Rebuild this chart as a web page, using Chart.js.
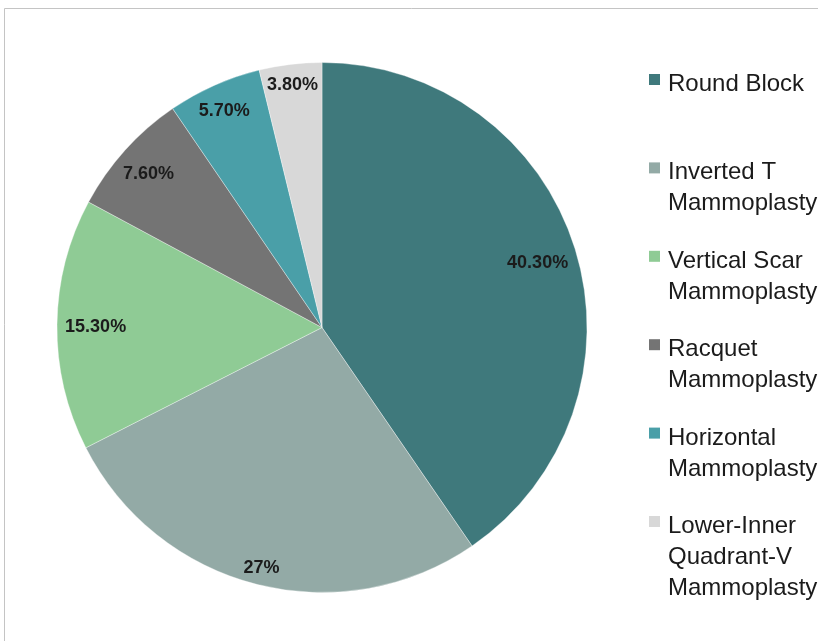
<!DOCTYPE html>
<html>
<head>
<meta charset="utf-8">
<script src="https://cdn.jsdelivr.net/npm/chart.js@4"></script>
<style>
    body { margin: 0; background: #fff; }
    canvas { display: block; }
</style>
</head>
<body>
<canvas id="pie-chart" width="818" height="641"></canvas>
<script>
// categories (each one split in the lines shown in the legend)
const categories = [
    ['Round Block'],
    ['Inverted T', 'Mammoplasty'],
    ['Vertical Scar', 'Mammoplasty'],
    ['Racquet', 'Mammoplasty'],
    ['Horizontal', 'Mammoplasty'],
    ['Lower-Inner', 'Quadrant-V', 'Mammoplasty']
];
const percents = [40.3, 27, 15.3, 7.6, 5.7, 3.8];
const slice_colors = ['#3f797c', '#93aaa6', '#8fcb95', '#747474', '#4a9fa8', '#d8d8d8'];

const text_color = '#1b1b1b';

function format_percent(v) {
    return (v % 1 === 0) ? v + '%' : v.toFixed(2) + '%';
}

// thin grey frame on top and left like the original picture
const frame_plugin = {
    id: 'frame',
    beforeDraw(chart) {
        const ctx = chart.ctx;
        ctx.save();
        ctx.fillStyle = '#fff';
        ctx.fillRect(0, 0, chart.width, chart.height);
        ctx.strokeStyle = '#c4c4c4';
        ctx.lineWidth = 1;
        ctx.beginPath();
        ctx.moveTo(4.5, chart.height);
        ctx.lineTo(4.5, 8.5);
        ctx.lineTo(chart.width, 8.5);
        ctx.stroke();
        ctx.restore();
    }
};

// percent labels, placed "inside end" of each slice
const value_labels = {
    id: 'valueLabels',
    afterDatasetsDraw(chart) {
        const ctx = chart.ctx;
        const meta = chart.getDatasetMeta(0);
        ctx.save();
        ctx.font = 'bold 18px "Liberation Sans", Arial, sans-serif';
        ctx.fillStyle = text_color;
        ctx.textAlign = 'center';
        ctx.textBaseline = 'middle';
        meta.data.forEach((arc, i) => {
            const p = arc.getProps(['x', 'y', 'startAngle', 'endAngle', 'outerRadius'], true);
            const mid = (p.startAngle + p.endAngle) / 2;
            const dx = Math.cos(mid), dy = Math.sin(mid);
            const txt = format_percent(percents[i]);
            const hw = ctx.measureText(txt).width / 2;
            const hh = 7;
            const extent = hw * Math.abs(dx) + hh * Math.abs(dy);
            const dist = p.outerRadius - 8 - extent;
            ctx.fillText(txt, p.x + dx * dist, p.y + dy * dist + 2.5);
        });
        ctx.restore();
    }
};

// legend on the right, one slot per category
const side_legend = {
    id: 'sideLegend',
    afterDraw(chart) {
        const ctx = chart.ctx;
        const colors = chart.data.datasets[0].backgroundColor;
        ctx.save();
        ctx.font = '24px "Liberation Sans", Arial, sans-serif';
        ctx.fillStyle = text_color;
        ctx.textAlign = 'left';
        ctx.textBaseline = 'alphabetic';
        chart.data.labels.forEach((lines, i) => {
            const base = 91 + i * 88.4;
            ctx.fillStyle = colors[i];
            ctx.fillRect(649, base - 17, 11, 11);
            ctx.fillStyle = text_color;
            lines.forEach((line, j) => {
                ctx.fillText(line, 668, base + j * 31);
            });
        });
        ctx.restore();
    }
};

const pie_chart = new Chart(
    document.getElementById('pie-chart'),
    {
        type: 'pie',
        data: {
            labels: categories,
            datasets: [
                {
                    data: percents,
                    backgroundColor: slice_colors,
                    borderColor: 'rgba(255, 255, 255, 0.35)',
                    borderWidth: 1
                }
            ]
        },
        options: {
            responsive: false,
            animation: false,
            layout: {
                padding: { left: 56.5, right: 230.5, top: 62, bottom: 48 }
            },
            plugins: {
                legend: { display: false },
                tooltip: { enabled: false }
            }
        },
        plugins: [frame_plugin, value_labels, side_legend]
    }
);
</script>
</body>
</html>
